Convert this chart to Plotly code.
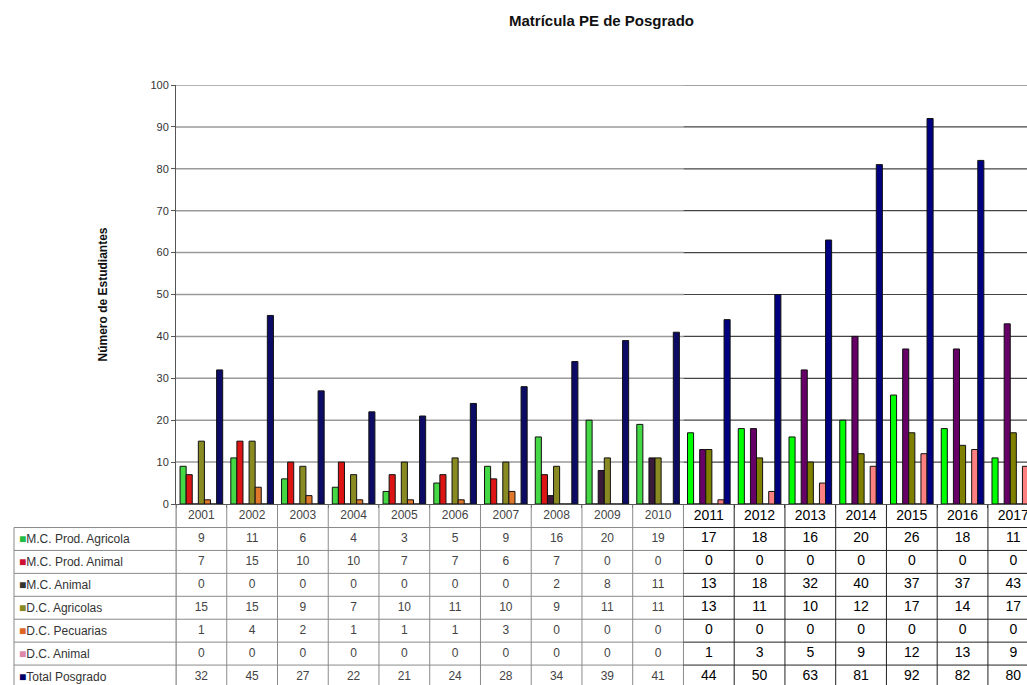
import plotly.graph_objects as go

years = ["2001", "2002", "2003", "2004", "2005", "2006", "2007", "2008", "2009",
         "2010", "2011", "2012", "2013", "2014", "2015", "2016", "2017"]

mc_prod_agricola = [9, 11, 6, 4, 3, 5, 9, 16, 20, 19, 17, 18, 16, 20, 26, 18, 11]
mc_prod_animal = [7, 15, 10, 10, 7, 7, 6, 7, 0, 0, 0, 0, 0, 0, 0, 0, 0]
mc_animal = [0, 0, 0, 0, 0, 0, 0, 2, 8, 11, 13, 18, 32, 40, 37, 37, 43]
dc_agricolas = [15, 15, 9, 7, 10, 11, 10, 9, 11, 11, 13, 11, 10, 12, 17, 14, 17]
dc_pecuarias = [1, 4, 2, 1, 1, 1, 3, 0, 0, 0, 0, 0, 0, 0, 0, 0, 0]
dc_animal = [0, 0, 0, 0, 0, 0, 0, 0, 0, 0, 1, 3, 5, 9, 12, 13, 9]
total_posgrado = [32, 45, 27, 22, 21, 24, 28, 34, 39, 41, 44, 50, 63, 81, 92, 82, 80]

series_names = ["M.C. Prod. Agricola", "M.C. Prod. Animal", "M.C. Animal",
                "D.C. Agricolas", "D.C. Pecuarias", "D.C. Animal", "Total Posgrado"]
series_values = [mc_prod_agricola, mc_prod_animal, mc_animal, dc_agricolas,
                 dc_pecuarias, dc_animal, total_posgrado]

# colours: older (2001-2010) block and newer (2011-2017) block
colors_old = ["#44d844", "#dd1414", "#3a1a3a", "#8a8a22", "#e0782c", "#f09aa8", "#0c0c66"]
colors_new = ["#00ff00", "#ff0000", "#660066", "#808000", "#ff8000", "#ff8080", "#000080"]
legend_colors = ["#22bb44", "#cc1133", "#333333", "#888822", "#dd6622", "#dd88aa", "#000066"]

n = len(years)
n_old = 10
xs = list(range(n))
x_end = 16.27
L = 176
plot_w = 1027 - L

def px_to_paper(px):
    return (px - L) / plot_w

fig = go.Figure()

for name, vals, co, cn in zip(series_names, series_values, colors_old, colors_new):
    cols = [co] * n_old + [cn] * (n - n_old)
    fig.add_trace(go.Bar(
        x=xs, y=vals, name=name,
        marker=dict(color=cols, line=dict(color="#111111", width=1)),
        xaxis="x", yaxis="y", showlegend=False,
    ))

# data table text
font_sizes = [12] * n_old + [14] * (n - n_old)
font_cols = ["#444444"] * n_old + ["#000000"] * (n - n_old)
fig.add_trace(go.Scatter(
    x=xs, y=[0] * n, text=years, mode="text", cliponaxis=False,
    textfont=dict(family="Arial", size=font_sizes, color=font_cols),
    xaxis="x2", yaxis="y2", showlegend=False, hoverinfo="skip"))
for k, vals in enumerate(series_values, start=1):
    fig.add_trace(go.Scatter(
        x=xs, y=[k] * n, text=[str(v) for v in vals], mode="text", cliponaxis=False,
        textfont=dict(family="Arial", size=font_sizes, color=font_cols),
        xaxis="x2", yaxis="y2", showlegend=False, hoverinfo="skip"))

shapes = []
# horizontal gridlines
for v in range(10, 101, 10):
    shapes.append(dict(type="line", xref="x", yref="y", x0=-0.5, x1=n_old - 0.5,
                       y0=v, y1=v, line=dict(color="#9a9a9a", width=1.5), layer="below"))
    shapes.append(dict(type="line", xref="x", yref="y", x0=n_old - 0.5, x1=x_end,
                       y0=v, y1=v, line=dict(color="#444444", width=1.2), layer="below"))

# table vertical lines
for i in range(n + 1):
    c = "#8a8a8a" if i <= n_old else "#222222"
    shapes.append(dict(type="line", xref="x2", yref="y2", x0=i - 0.5, x1=i - 0.5,
                       y0=-0.5, y1=7.6, line=dict(color=c, width=1)))
# table horizontal lines
for k in range(1, 8):
    yy = k - 0.5
    shapes.append(dict(type="line", xref="paper", yref="y2", x0=px_to_paper(14), x1=0,
                       y0=yy, y1=yy, line=dict(color="#8a8a8a", width=1)))
    shapes.append(dict(type="line", xref="x2", yref="y2", x0=-0.5, x1=n_old - 0.5,
                       y0=yy, y1=yy, line=dict(color="#8a8a8a", width=1)))
    shapes.append(dict(type="line", xref="x2", yref="y2", x0=n_old - 0.5, x1=x_end,
                       y0=yy, y1=yy, line=dict(color="#222222", width=1)))
# label column borders
shapes.append(dict(type="line", xref="paper", yref="y2", x0=px_to_paper(14), x1=px_to_paper(14),
                   y0=0.5, y1=7.6, line=dict(color="#8a8a8a", width=1)))
shapes.append(dict(type="line", xref="paper", yref="y2", x0=0, x1=0,
                   y0=-0.5, y1=7.6, line=dict(color="#8a8a8a", width=1)))

annotations = []
for k, (name, lc) in enumerate(zip(series_names, legend_colors), start=1):
    annotations.append(dict(
        xref="paper", yref="y2", x=px_to_paper(17), y=k, xanchor="left", yanchor="middle",
        text=f'<span style="color:{lc}">■</span>{name}', showarrow=False,
        font=dict(family="Arial", size=12, color="#333333")))

fig.update_layout(
    width=1027, height=685,
    margin=dict(l=L, r=0, t=85, b=0, autoexpand=False),
    paper_bgcolor="white", plot_bgcolor="white",
    barmode="group", bargap=0.16, bargroupgap=0.0,
    title=dict(text="<b>Matrícula PE de Posgrado</b>", x=0.5, xref="paper", y=0.97,
               xanchor="center", yanchor="middle",
               font=dict(family="Arial", size=15, color="#111111")),
    xaxis=dict(range=[-0.5, x_end], showticklabels=False, showgrid=False, zeroline=False,
               tickvals=[i - 0.5 for i in range(n + 1)], ticks="outside", ticklen=3,
               tickcolor="#555555", showline=True, linecolor="#555555", linewidth=1,
               anchor="y", automargin=False),
    yaxis=dict(domain=[(685 - 504) / 600, 1], range=[0, 100], dtick=10, showgrid=False,
               zeroline=False, showline=True, linecolor="#555555", linewidth=1,
               ticks="outside", ticklen=4, tickcolor="#555555", automargin=False,
               tickfont=dict(family="Arial", size=11, color="#333333"),
               title=dict(text="<b>Número de Estudiantes</b>", standoff=40,
                          font=dict(family="Arial", size=12, color="#111111"))),
    xaxis2=dict(range=[-0.5, x_end], showticklabels=False, showgrid=False,
                zeroline=False, showline=False, anchor="y2", automargin=False),
    yaxis2=dict(domain=[0, (685 - 504) / 600 - 0.001], range=[-0.5 + 181 / 23, -0.5],
                showticklabels=False, showgrid=False, zeroline=False, showline=False,
                anchor="x2", automargin=False),
    shapes=shapes, annotations=annotations,
)

fig.write_html("out.html", config={"displayModeBar": False},
               post_script="document.body.style.margin='0px';")
